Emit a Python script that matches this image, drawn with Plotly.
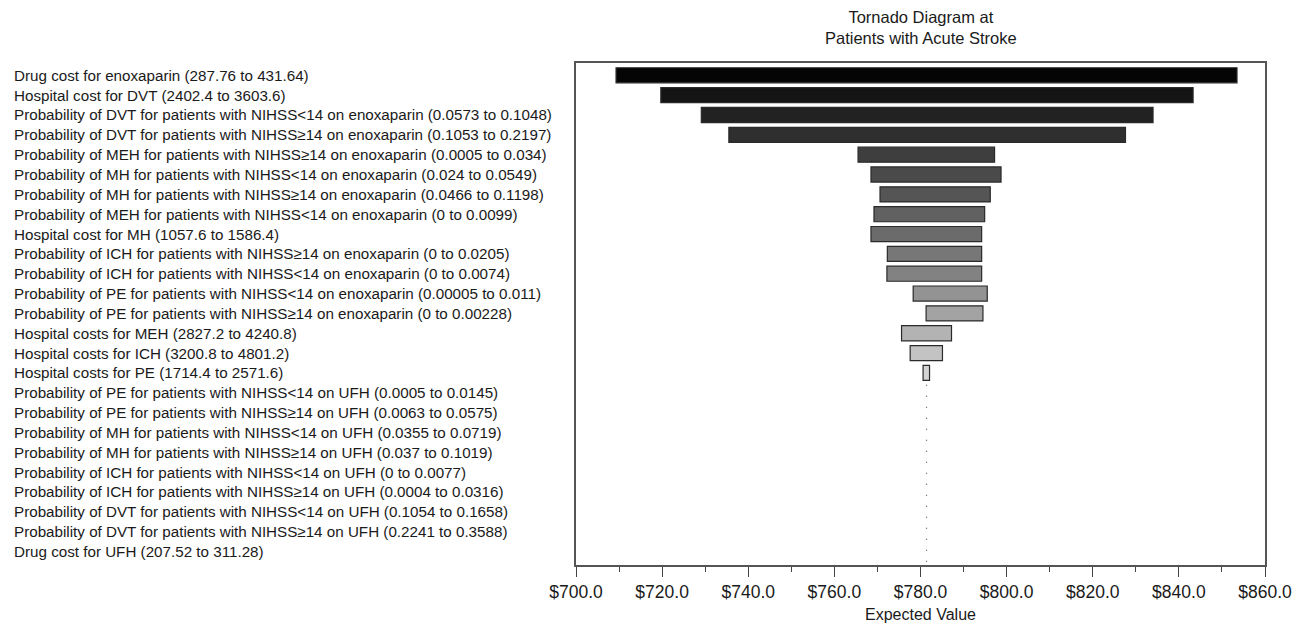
import plotly.graph_objects as go

# One-way sensitivity analysis: expected value range for each input
labels = [
    "Drug cost for enoxaparin (287.76 to 431.64)",
    "Hospital cost for DVT (2402.4 to 3603.6)",
    "Probability of DVT for patients with NIHSS<14 on enoxaparin (0.0573 to 0.1048)",
    "Probability of DVT for patients with NIHSS≥14 on enoxaparin (0.1053 to 0.2197)",
    "Probability of MEH for patients with NIHSS≥14 on enoxaparin (0.0005 to 0.034)",
    "Probability of MH for patients with NIHSS<14 on enoxaparin (0.024 to 0.0549)",
    "Probability of MH for patients with NIHSS≥14 on enoxaparin (0.0466 to 0.1198)",
    "Probability of MEH for patients with NIHSS<14 on enoxaparin (0 to 0.0099)",
    "Hospital cost for MH (1057.6 to 1586.4)",
    "Probability of ICH for patients with NIHSS≥14 on enoxaparin (0 to 0.0205)",
    "Probability of ICH for patients with NIHSS<14 on enoxaparin (0 to 0.0074)",
    "Probability of PE for patients with NIHSS<14 on enoxaparin (0.00005 to 0.011)",
    "Probability of PE for patients with NIHSS≥14 on enoxaparin (0 to 0.00228)",
    "Hospital costs for MEH (2827.2 to 4240.8)",
    "Hospital costs for ICH (3200.8 to 4801.2)",
    "Hospital costs for PE (1714.4 to 2571.6)",
    "Probability of PE for patients with NIHSS<14 on UFH (0.0005 to 0.0145)",
    "Probability of PE for patients with NIHSS≥14 on UFH (0.0063 to 0.0575)",
    "Probability of MH for patients with NIHSS<14 on UFH (0.0355 to 0.0719)",
    "Probability of MH for patients with NIHSS≥14 on UFH (0.037 to 0.1019)",
    "Probability of ICH for patients with NIHSS<14 on UFH (0 to 0.0077)",
    "Probability of ICH for patients with NIHSS≥14 on UFH (0.0004 to 0.0316)",
    "Probability of DVT for patients with NIHSS<14 on UFH (0.1054 to 0.1658)",
    "Probability of DVT for patients with NIHSS≥14 on UFH (0.2241 to 0.3588)",
    "Drug cost for UFH (207.52 to 311.28)",
]

base_value = 781.4

low_values = [709.3, 719.7, 729.1, 735.5, 765.5, 768.5, 770.6, 769.2, 768.5,
              772.3, 772.2, 778.3, 781.3, 775.6, 777.6, 780.6,
              781.4, 781.4, 781.4, 781.4, 781.4, 781.4, 781.4, 781.4, 781.4]
high_values = [853.5, 843.3, 834.0, 827.6, 797.2, 798.7, 796.2, 794.9, 794.2,
               794.2, 794.2, 795.5, 794.5, 787.2, 785.1, 782.1,
               781.4, 781.4, 781.4, 781.4, 781.4, 781.4, 781.4, 781.4, 781.4]

bar_greys = ["#050505", "#141414", "#222222", "#2f2f2f", "#3e3e3e", "#4a4a4a",
             "#555555", "#616161", "#6b6b6b", "#777777", "#828282", "#939393",
             "#a3a3a3", "#b3b3b3", "#c3c3c3", "#d3d3d3"]

title_text = "Tornado Diagram at<br>Patients with Acute Stroke"
x_title = "Expected Value"

FONT = "Liberation Sans, Arial, sans-serif"
INK = "#1a1a1a"

rows = list(range(len(labels)))
widths = [h - l for l, h in zip(low_values, high_values)]
n_bars = len(bar_greys)

fig = go.Figure()

fig.add_trace(go.Bar(
    y=rows[:n_bars],
    x=widths[:n_bars],
    base=low_values[:n_bars],
    orientation="h",
    width=0.76,
    marker=dict(color=bar_greys, line=dict(color="#2a2a2a", width=1.2)),
    showlegend=False,
    hoverinfo="skip",
))

# zero-width rows: dotted base-value line
zero_rows = [r for r, w in zip(rows, widths) if w == 0]
fig.add_trace(go.Scatter(
    x=[base_value, base_value],
    y=[zero_rows[0] - 0.4, zero_rows[-1] + 0.6],
    mode="lines",
    line=dict(color="#555555", width=1.2, dash="1px,10px"),
    showlegend=False,
    hoverinfo="skip",
))

# left-aligned variable labels
for r, txt in zip(rows, labels):
    fig.add_annotation(
        x=-0.818, xref="paper", xanchor="left",
        y=r, yref="y", yanchor="middle",
        text=txt, showarrow=False,
        font=dict(family=FONT, size=15.2, color=INK),
    )

# two-line heading above the plot
fig.add_annotation(
    x=0.5, xref="paper", xanchor="center",
    y=1, yref="paper", yanchor="bottom", yshift=14,
    text=title_text, showarrow=False,
    font=dict(family=FONT, size=16.5, color=INK),
)

fig.update_layout(
    width=1304, height=633,
    margin=dict(l=576, r=37, t=63, b=63),
    paper_bgcolor="white", plot_bgcolor="white",
    font=dict(family=FONT, color=INK),
    bargap=0.2,
)

fig.update_xaxes(
    range=[700, 860], dtick=20, tick0=700,
    tickprefix="$", tickformat=".1f",
    ticks="outside", ticklen=10, tickwidth=1.2, tickcolor="#444444",
    minor=dict(dtick=10, ticks="outside", ticklen=5, tickwidth=1.2, tickcolor="#444444"),
    showline=True, linecolor="#555555", linewidth=1.5, mirror=True,
    showgrid=False, zeroline=False,
    tickfont=dict(size=17.5, color=INK),
    title=dict(text=x_title, font=dict(size=16, color=INK), standoff=8),
)
fig.update_yaxes(
    range=[24.68, -0.62],
    showticklabels=False, ticks="",
    showline=True, linecolor="#555555", linewidth=1.5, mirror=True,
    showgrid=False, zeroline=False,
)

fig.write_html("out.html")
